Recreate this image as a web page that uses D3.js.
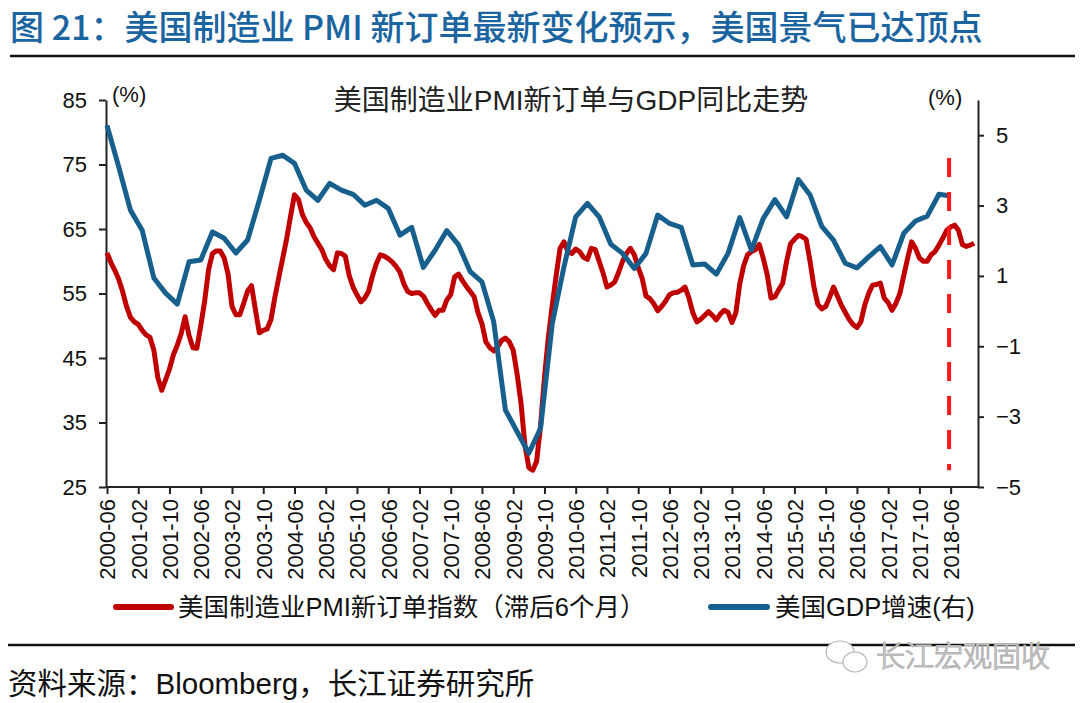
<!DOCTYPE html>
<html>
<head>
<meta charset="utf-8">
<script src="https://cdn.jsdelivr.net/npm/d3@7/dist/d3.min.js"></script>
<style>
  html, body { margin: 0; padding: 0; background: #fff; }
  svg { display: block; }
  text { font-family: "Liberation Sans", Arial, "Noto Sans CJK SC", sans-serif; }
</style>
</head>
<body>
<svg id="chart" width="1080" height="703"></svg>
<script>
// ---------------- DATA ----------------
const mainTitle = "图 21：美国制造业 PMI 新订单最新变化预示，美国景气已达顶点";
const chartTitle = "美国制造业PMI新订单与GDP同比走势";
const sourceText = "资料来源：Bloomberg，长江证券研究所";
const watermarkText = "长江宏观固收";
const seriesNames = ["美国制造业PMI新订单指数（滞后6个月）", "美国GDP增速(右)"];

// monthly axis categories: 2000-06 ... 2019-01
const firstMonth = [2000, 6];
const monthCount = 224;

const xTickLabels = ["2000-06","2001-02","2001-10","2002-06","2003-02","2003-10","2004-06",
  "2005-02","2005-10","2006-06","2007-02","2007-10","2008-06","2009-02","2009-10","2010-06",
  "2011-02","2011-10","2012-06","2013-02","2013-10","2014-06","2015-02","2015-10","2016-06",
  "2017-02","2017-10","2018-06"];
const leftTicks = [25, 35, 45, 55, 65, 75, 85];
const rightTicks = [-5, -3, -1, 1, 3, 5];
const leftDomain = [25, 85];
const rightDomain = [-5, 6];

// US Manufacturing PMI new orders (lagged 6 months), monthly from 2000-06
const pmiNewOrders = [
  61.3,59.8,58.6,57.2,55.3,53.0,51.3,50.6,50.2,49.3,48.6,48.2,46.2,42.0,40.0,41.6,43.3,45.5,47.0,48.8,
  51.4,48.5,46.6,46.5,50.0,53.8,58.7,61.2,61.6,61.6,60.5,58.0,53.0,51.7,51.7,53.5,55.4,56.2,52.5,48.9,
  49.3,49.5,51.0,54.5,57.5,60.5,63.5,67.0,70.3,69.6,67.3,66.0,65.2,63.8,62.8,61.8,60.3,59.3,58.7,61.3,
  61.2,60.8,57.8,56.0,54.8,53.7,54.3,55.4,57.8,59.7,61.0,60.8,60.4,59.9,59.2,58.3,56.5,55.3,55.0,55.1,
  55.1,54.6,53.5,52.5,51.6,52.4,52.4,54.0,54.8,57.6,58.0,57.0,56.1,55.3,54.5,52.0,50.3,47.5,46.6,46.1,
  46.7,47.7,48.1,47.5,46.2,42.5,38.0,31.5,28.0,27.6,29.0,34.5,42.0,48.2,53.2,57.8,62.0,63.0,61.5,61.2,
  61.9,61.5,60.6,60.3,62.0,61.8,60.0,58.2,56.0,56.3,56.8,58.3,60.0,61.2,62.0,61.0,59.0,57.4,54.6,54.2,
  53.4,52.3,53.0,53.8,54.8,55.1,55.2,55.5,56.0,54.3,52.0,50.6,51.0,51.6,52.2,51.6,50.9,51.8,52.4,52.1,
  50.5,52.0,56.5,59.3,61.0,61.5,61.8,62.6,60.5,58.0,54.3,54.5,55.6,56.6,60.0,62.7,63.4,64.0,63.8,63.4,
  60.0,56.0,53.3,52.6,53.0,54.4,56.0,54.6,53.2,52.1,51.0,50.2,49.7,50.6,53.2,55.0,56.3,56.4,56.6,54.3,
  53.6,52.4,53.5,55.0,57.8,60.5,63.0,62.0,60.5,60.0,60.0,61.0,61.5,62.5,63.6,64.8,65.3,65.6,64.8,62.6,
  62.3,62.5,62.8
];

// US real GDP YoY (%), quarterly, plotted at 2000-06, 2000-09, ... 2018-06
const gdpGrowth = [
  5.28,4.10,2.87,2.30,0.94,0.51,0.20,1.40,1.45,2.25,2.07,1.65,2.02,3.15,4.34,4.43,4.20,3.44,3.15,3.63,
  3.44,3.32,3.01,3.15,2.92,2.16,2.38,1.24,1.73,2.29,1.88,1.12,0.83,-0.30,-2.81,-3.43,-4.04,-3.33,-0.35,1.26,
  2.68,3.06,2.68,1.90,1.64,1.21,1.64,2.73,2.49,2.38,1.31,1.34,1.05,1.64,2.66,1.73,2.63,3.17,2.68,3.74,
  3.30,2.41,2.02,1.36,1.23,1.54,1.83,1.31,2.21,2.56,2.70,3.32,3.27
];
const gdpStepMonths = 3;

// red dashed marker (month position and left-axis value range)
const markerMonthPos = 215.6;
const markerRange = [27.6, 76.0];

// ---------------- BUILD ----------------
const months = [];
for (let i = 0; i < monthCount; i++) {
  const t = (firstMonth[0] * 12 + firstMonth[1] - 1) + i;
  const y = Math.floor(t / 12), m = t % 12 + 1;
  months.push(y + "-" + (m < 10 ? "0" + m : m));
}

const svg = d3.select("#chart");
const plot = { left: 107, right: 978, top: 100, bottom: 487 };

// header
svg.append("text")
  .attr("x", 10).attr("y", 40)
  .attr("font-size", 34).attr("font-weight", 500)
  .attr("fill", "#1a64a0")
  .style("font-family", "'Noto Sans CJK SC', 'Liberation Sans', sans-serif")
  .text(mainTitle);
svg.append("line").attr("x1", 10).attr("x2", 1075).attr("y1", 56).attr("y2", 56)
  .attr("stroke", "#111").attr("stroke-width", 2.5);

// scales
const x = d3.scalePoint().domain(months).range([plot.left, plot.right]);
const yL = d3.scaleLinear().domain(leftDomain).range([plot.bottom, plot.top]);
const yR = d3.scaleLinear().domain(rightDomain).range([plot.bottom, plot.top]);

// axes
const axisColor = "#222";
const gL = svg.append("g").attr("transform", `translate(${plot.left - 1},0)`)
  .call(d3.axisLeft(yL).tickValues(leftTicks).tickSize(7).tickSizeOuter(0).tickPadding(12));
const gR = svg.append("g").attr("transform", `translate(${plot.right},0)`)
  .call(d3.axisRight(yR).tickValues(rightTicks).tickSize(6).tickSizeOuter(0).tickPadding(12)
    .tickFormat(d3.format("d")));
const gX = svg.append("g").attr("transform", `translate(0,${plot.bottom})`)
  .call(d3.axisBottom(x).tickValues(xTickLabels).tickSize(7).tickSizeOuter(0));

[gL, gR, gX].forEach(g => {
  g.select(".domain").attr("stroke", axisColor).attr("stroke-width", 2);
  g.selectAll(".tick line").attr("stroke", axisColor).attr("stroke-width", 2);
  g.selectAll(".tick text").attr("fill", "#111").attr("font-size", 22)
    .style("font-family", "'Liberation Sans', Arial, sans-serif");
});
gX.select(".domain").attr("d", `M${plot.left - 1},0H${plot.right}`);
gX.selectAll(".tick text")
  .attr("transform", "rotate(-90)")
  .attr("text-anchor", "end")
  .attr("x", -12).attr("y", 0).attr("dy", "0.36em");

// unit labels & chart title
svg.append("text").attr("x", 112).attr("y", 102).attr("font-size", 22).attr("fill", "#111").text("(%)");
svg.append("text").attr("x", 928).attr("y", 105).attr("font-size", 22).attr("fill", "#111").text("(%)");
svg.append("text").attr("x", 571).attr("y", 110).attr("text-anchor", "middle")
  .attr("font-size", 28).attr("fill", "#222").text(chartTitle);

// lines
const redColor = "#c00000", blueColor = "#17608e";
const pmiLine = d3.line().x((d, i) => x(months[i])).y(d => yL(d));
svg.append("path").datum(pmiNewOrders).attr("d", pmiLine)
  .attr("fill", "none").attr("stroke", redColor).attr("stroke-width", 5).attr("stroke-linejoin", "round");

const gdpLine = d3.line().x((d, i) => x(months[i * gdpStepMonths])).y(d => yR(d));
svg.append("path").datum(gdpGrowth).attr("d", gdpLine)
  .attr("fill", "none").attr("stroke", blueColor).attr("stroke-width", 5).attr("stroke-linejoin", "round");

// dashed marker
const step = x.step();
const mx = plot.left + markerMonthPos * step;
svg.append("line").attr("x1", mx).attr("x2", mx)
  .attr("y1", yL(markerRange[1])).attr("y2", yL(markerRange[0]))
  .attr("stroke", "#ff1a1a").attr("stroke-width", 4).attr("stroke-dasharray", "19,15");

// legend
const lg = svg.append("g");
lg.append("line").attr("x1", 116).attr("x2", 171).attr("y1", 607).attr("y2", 607)
  .attr("stroke", redColor).attr("stroke-width", 6).attr("stroke-linecap", "round");
lg.append("text").attr("x", 178).attr("y", 616).attr("font-size", 25.5).attr("fill", "#111").text(seriesNames[0]);
lg.append("line").attr("x1", 711).attr("x2", 767).attr("y1", 607).attr("y2", 607)
  .attr("stroke", blueColor).attr("stroke-width", 6).attr("stroke-linecap", "round");
lg.append("text").attr("x", 775).attr("y", 616).attr("font-size", 25.5).attr("fill", "#111").text(seriesNames[1]);

// footer
svg.append("line").attr("x1", 8).attr("x2", 1075).attr("y1", 645).attr("y2", 645)
  .attr("stroke", "#111").attr("stroke-width", 2.5);
svg.append("text").attr("x", 8).attr("y", 694).attr("font-size", 29.5).attr("fill", "#111").text(sourceText);

// watermark
const wm = svg.append("g").attr("fill", "#fff").attr("stroke", "#b5b5b5").attr("stroke-width", 1.2);
wm.append("ellipse").attr("cx", 840).attr("cy", 652).attr("rx", 14).attr("ry", 11);
wm.append("ellipse").attr("cx", 855).attr("cy", 662).attr("rx", 12).attr("ry", 10);
wm.append("text").attr("x", 876).attr("y", 667).attr("font-size", 29)
  .style("font-family", "'Noto Sans CJK SC', sans-serif").attr("font-weight", 300)
  .text(watermarkText);
</script>
</body>
</html>
